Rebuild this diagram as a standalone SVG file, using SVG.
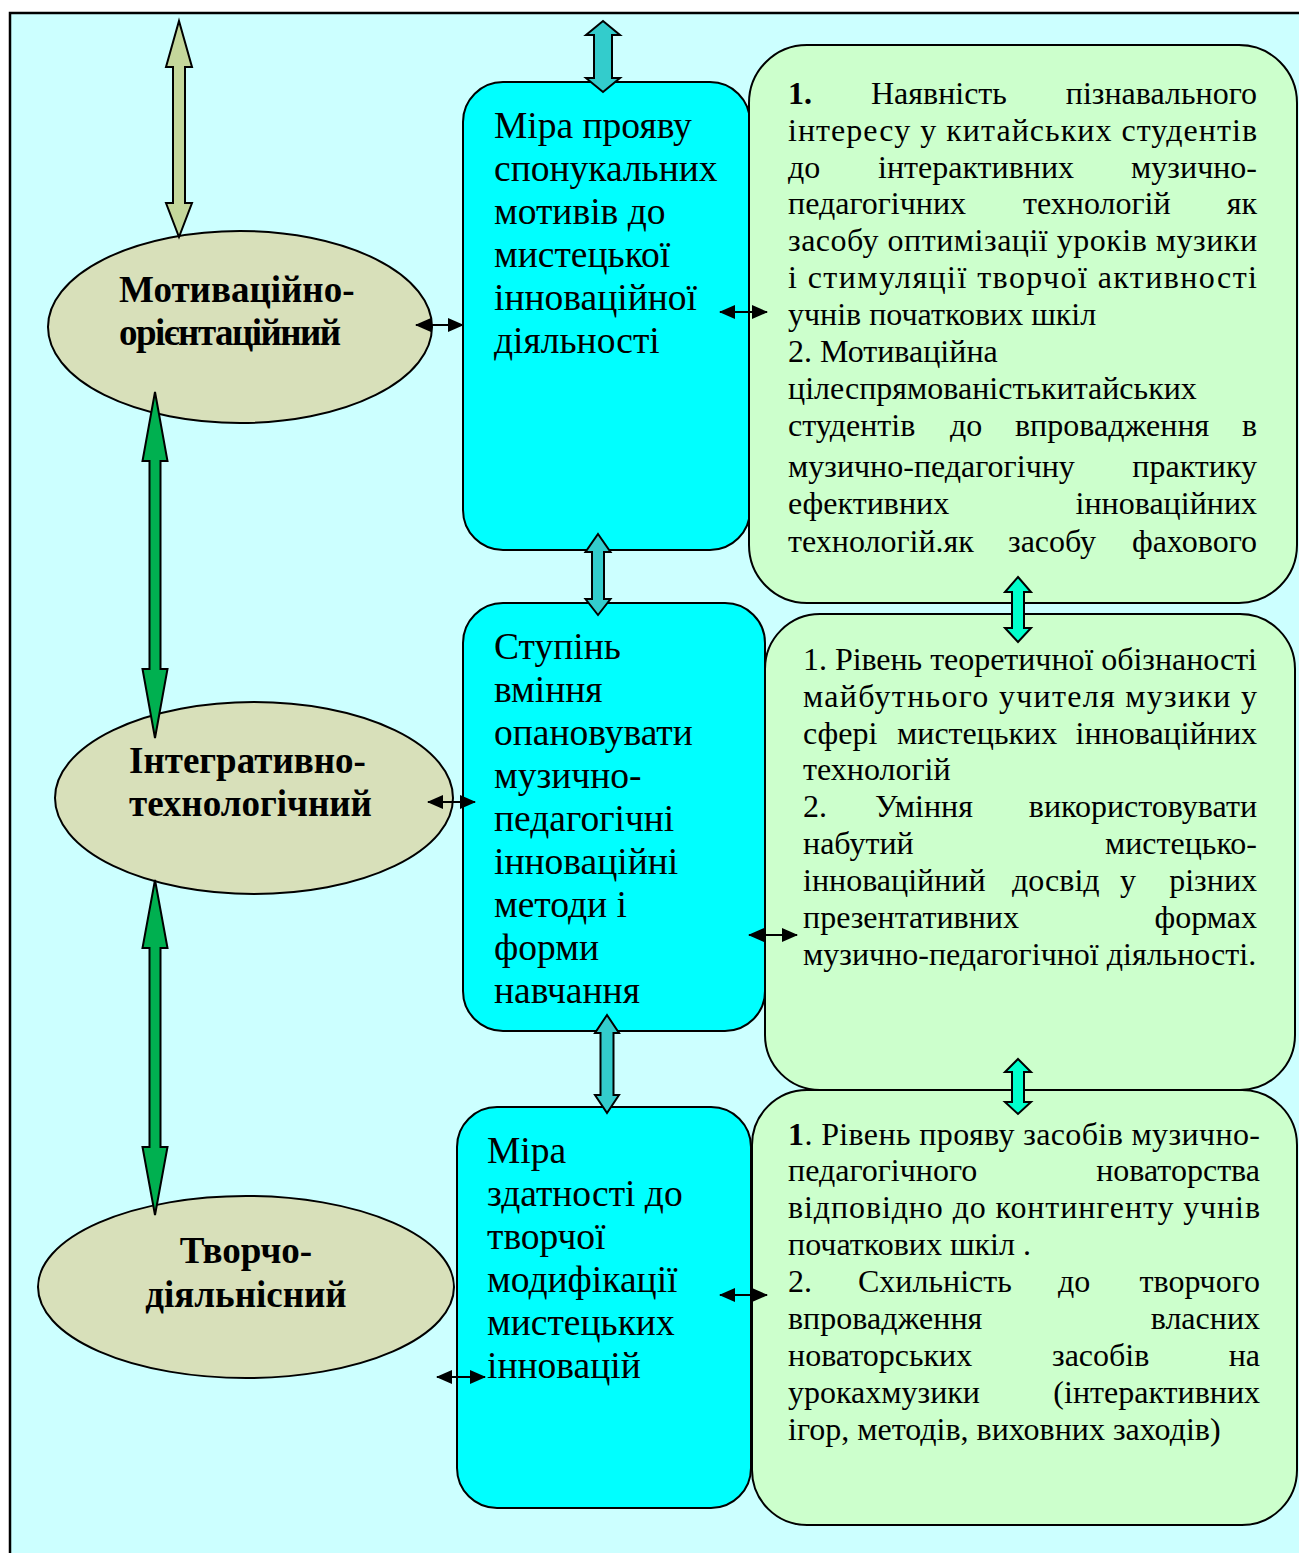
<svg xmlns="http://www.w3.org/2000/svg" width="1299" height="1553" viewBox="0 0 1299 1553">
<defs>
<marker id="ah" markerUnits="userSpaceOnUse" markerWidth="16" markerHeight="14" refX="15" refY="7" orient="auto-start-reverse">
<path d="M0,0 L16,7 L0,14 Z" fill="#000"/>
</marker>
<style>
.bx{font-family:"Liberation Serif","Times New Roman",serif;font-size:37.5px;fill:#000}
.tx{font-family:"Liberation Serif","Times New Roman",serif;font-size:32px;fill:#000}
.el{font-family:"Liberation Serif","Times New Roman",serif;font-size:37px;font-weight:bold;fill:#000}
.e{text-anchor:end}
.b{font-weight:bold}
.ell{fill:#D8E0BA;stroke:#000;stroke-width:2}
.cy{fill:#00FFFF;stroke:#000;stroke-width:2}
.gr{fill:#CCFFCC;stroke:#000;stroke-width:2}
.thick{stroke:#000;stroke-width:2;stroke-linejoin:miter}
.sm{stroke:#000;stroke-width:2;fill:none;marker-start:url(#ah);marker-end:url(#ah)}
</style>
</defs>
<rect x="10" y="13" width="1300" height="1560" fill="#CCFFFF" stroke="#000" stroke-width="2.5"/>

<g id="ellipse-motivational">
<ellipse class="ell" cx="240" cy="327" rx="192" ry="96"/>
<text class="el" x="119" y="302">Мотиваційно-</text>
<text class="el" x="119" y="345" textLength="222" lengthAdjust="spacing">орієнтаційний</text>
</g>
<g id="ellipse-integrative">
<ellipse class="ell" cx="254" cy="798" rx="199" ry="96"/>
<text class="el" x="129" y="773">Інтегративно-</text>
<text class="el" x="129" y="816">технологічний</text>
</g>
<g id="ellipse-creative">
<ellipse class="ell" cx="246" cy="1287" rx="208" ry="91"/>
<text class="el" x="246" y="1263" text-anchor="middle">Творчо-</text>
<text class="el" x="246" y="1307" text-anchor="middle">діяльнісний</text>
</g>

<g id="box-1">
<rect class="cy" x="463" y="82" width="287" height="468" rx="40"/>
<text class="bx" x="494" y="138">Міра прояву</text>
<text class="bx" x="494" y="181">спонукальних</text>
<text class="bx" x="494" y="224">мотивів до</text>
<text class="bx" x="494" y="267">мистецької</text>
<text class="bx" x="494" y="310">інноваційної</text>
<text class="bx" x="494" y="353">діяльності</text>
</g>
<g id="box-2">
<rect class="cy" x="463" y="603" width="302" height="428" rx="40"/>
<text class="bx" x="494" y="659">Ступінь</text>
<text class="bx" x="494" y="702">вміння</text>
<text class="bx" x="494" y="745">опановувати</text>
<text class="bx" x="494" y="788">музично-</text>
<text class="bx" x="494" y="831">педагогічні</text>
<text class="bx" x="494" y="874">інноваційні</text>
<text class="bx" x="494" y="917">методи і</text>
<text class="bx" x="494" y="960">форми</text>
<text class="bx" x="494" y="1003">навчання</text>
</g>
<g id="box-3">
<rect class="cy" x="457" y="1107" width="294" height="401" rx="40"/>
<text class="bx" x="487" y="1163">Міра</text>
<text class="bx" x="487" y="1206">здатності до</text>
<text class="bx" x="487" y="1249">творчої</text>
<text class="bx" x="487" y="1292">модифікації</text>
<text class="bx" x="487" y="1335">мистецьких</text>
<text class="bx" x="487" y="1378">інновацій</text>
</g>

<g id="desc-1">
<rect class="gr" x="749" y="45" width="548" height="558" rx="58"/>
<text class="tx b" x="788" y="104">1.</text>
<text class="tx" x="871" y="104">Наявність</text>
<text class="tx e" x="1257" y="104">пізнавального</text>
<text class="tx" x="788" y="141" textLength="469" lengthAdjust="spacing">інтересу у китайських студентів</text>
<text class="tx" x="788" y="178">до</text>
<text class="tx" x="878" y="178">інтерактивних</text>
<text class="tx e" x="1257" y="178">музично-</text>
<text class="tx" x="788" y="214">педагогічних</text>
<text class="tx" x="1023" y="214">технологій</text>
<text class="tx e" x="1257" y="214">як</text>
<text class="tx" x="788" y="251" textLength="469" lengthAdjust="spacing">засобу оптимізації уроків музики</text>
<text class="tx" x="788" y="288" textLength="469" lengthAdjust="spacing">і стимуляції творчої активності</text>
<text class="tx" x="788" y="325">учнів початкових шкіл</text>
<text class="tx" x="788" y="362">2. Мотиваційна</text>
<text class="tx" x="788" y="399">цілеспрямованістькитайських</text>
<text class="tx" x="788" y="436">студентів</text>
<text class="tx" x="950" y="436">до</text>
<text class="tx" x="1015" y="436">впровадження</text>
<text class="tx e" x="1257" y="436">в</text>
<text class="tx" x="788" y="477">музично-педагогічну</text>
<text class="tx e" x="1257" y="477">практику</text>
<text class="tx" x="788" y="514">ефективних</text>
<text class="tx e" x="1257" y="514">інноваційних</text>
<text class="tx" x="788" y="552">технологій.як</text>
<text class="tx" x="1008" y="552">засобу</text>
<text class="tx e" x="1257" y="552">фахового</text>
</g>
<g id="desc-2">
<rect class="gr" x="765" y="614" width="530" height="476" rx="55"/>
<text class="tx" x="803" y="670" textLength="454" lengthAdjust="spacing">1. Рівень теоретичної обізнаності</text>
<text class="tx" x="803" y="707" textLength="454" lengthAdjust="spacing">майбутнього учителя музики у</text>
<text class="tx" x="803" y="744">сфері</text>
<text class="tx" x="897" y="744">мистецьких</text>
<text class="tx e" x="1257" y="744">інноваційних</text>
<text class="tx" x="803" y="780">технологій</text>
<text class="tx" x="803" y="817">2.</text>
<text class="tx" x="875" y="817">Уміння</text>
<text class="tx e" x="1257" y="817">використовувати</text>
<text class="tx" x="803" y="854">набутий</text>
<text class="tx e" x="1257" y="854">мистецько-</text>
<text class="tx" x="803" y="891">інноваційний</text>
<text class="tx" x="1012" y="891">досвід</text>
<text class="tx" x="1120" y="891">у</text>
<text class="tx e" x="1257" y="891">різних</text>
<text class="tx" x="803" y="928">презентативних</text>
<text class="tx e" x="1257" y="928">формах</text>
<text class="tx" x="803" y="965">музично-педагогічної діяльності.</text>
</g>
<g id="desc-3">
<rect class="gr" x="752" y="1090" width="545" height="435" rx="55"/>
<text class="tx" x="788" y="1145" textLength="472" lengthAdjust="spacing"><tspan class="b">1</tspan>. Рівень прояву засобів музично-</text>
<text class="tx" x="788" y="1181">педагогічного</text>
<text class="tx e" x="1260" y="1181">новаторства</text>
<text class="tx" x="788" y="1218" textLength="472" lengthAdjust="spacing">відповідно до контингенту учнів</text>
<text class="tx" x="788" y="1255">початкових шкіл .</text>
<text class="tx" x="788" y="1292">2.</text>
<text class="tx" x="858" y="1292">Схильність</text>
<text class="tx" x="1058" y="1292">до</text>
<text class="tx e" x="1260" y="1292">творчого</text>
<text class="tx" x="788" y="1329">впровадження</text>
<text class="tx e" x="1260" y="1329">власних</text>
<text class="tx" x="788" y="1366">новаторських</text>
<text class="tx" x="1052" y="1366">засобів</text>
<text class="tx e" x="1260" y="1366">на</text>
<text class="tx" x="788" y="1403">урокахмузики</text>
<text class="tx e" x="1260" y="1403">(інтерактивних</text>
<text class="tx" x="788" y="1440">ігор, методів, виховних заходів)</text>
</g>

<g id="connectors">
<path class="thick" fill="#C4D79B" d="M179,21 L192,67 L185,67 L185,203 L192,203 L179,237 L166,203 L173,203 L173,67 L166,67 Z"/>
<path class="thick" fill="#00B050" d="M155,392 L167.5,461 L160.5,461 L160.5,669 L167.5,669 L155,738 L142.5,669 L149.5,669 L149.5,461 L142.5,461 Z"/>
<path class="thick" fill="#00B050" d="M155,880 L167.5,948 L160.5,948 L160.5,1147 L167.5,1147 L155,1215 L142.5,1147 L149.5,1147 L149.5,948 L142.5,948 Z"/>
<path class="thick" fill="#33CCCC" d="M603,21 L620,35 L612,35 L612,78 L620,78 L603,92 L586,78 L594,78 L594,35 L586,35 Z"/>
<path class="thick" fill="#33CCCC" d="M598,534 L610.5,552 L604,552 L604,599 L610.5,599 L598,615 L585.5,599 L592,599 L592,552 L585.5,552 Z"/>
<path class="thick" fill="#33CCCC" d="M607,1015 L619,1033 L613.5,1033 L613.5,1095 L619,1095 L607,1113 L595,1095 L600.5,1095 L600.5,1033 L595,1033 Z"/>
<path class="thick" fill="#00FFCC" d="M1018,577 L1031,592 L1024,592 L1024,628 L1031,628 L1018,642 L1005,628 L1012,628 L1012,592 L1005,592 Z"/>
<path class="thick" fill="#00FFCC" d="M1018,1059 L1031,1072 L1024,1072 L1024,1102 L1031,1102 L1018,1114 L1005,1102 L1012,1102 L1012,1072 L1005,1072 Z"/>
<line class="sm" x1="416" y1="325" x2="463" y2="325"/>
<line class="sm" x1="720" y1="312" x2="767" y2="312"/>
<line class="sm" x1="428" y1="802" x2="475" y2="802"/>
<line class="sm" x1="749" y1="935" x2="797" y2="935"/>
<line class="sm" x1="720" y1="1295" x2="767" y2="1295"/>
<line class="sm" x1="437" y1="1377" x2="485" y2="1377"/>
</g>
</svg>
